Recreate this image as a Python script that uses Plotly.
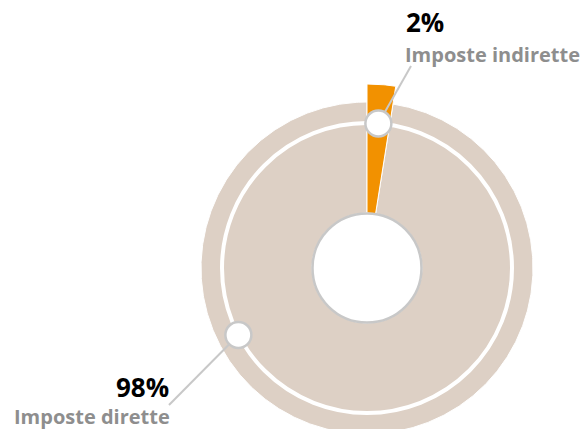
import numpy as np
import plotly.graph_objects as go

# --- data -------------------------------------------------------------
categories = ["Imposte indirette", "Imposte dirette"]
shares = [2.5, 97.5]
pct_labels = [f"{v:.0f}%" for v in shares]

# --- style / layout constants ------------------------------------------
W, H = 585, 429
CX, CY = 367, 268          # donut centre (axis units = pixels, y down)
HOLE_R = 55
RING_R = 145

ORANGE = "#f29100"
BEIGE = "#ddd0c5"
GREY_TXT = "#8e8e8e"
GREY_LINE = "#c8c8c8"
FONT = "Open Sans"

slice_colors = [ORANGE, BEIGE]
slice_outer = [184, 166]
knob_angle_override = [None, 242.5]        # beige knob sits lower-left
leader_end = [(411, 66), (169, 405)]       # where the leader lines stop


def polar_xy(r, deg):
    t = np.radians(deg)
    return CX + r * np.sin(t), CY - r * np.cos(t)


def wedge(a0, a1, r0, r1):
    t = np.linspace(a0, a1, max(int(abs(a1 - a0)) * 2, 8))
    xo, yo = polar_xy(r1, t)
    xi, yi = polar_xy(r0, t[::-1])
    xs = np.concatenate([xo, xi, xo[:1]])
    ys = np.concatenate([yo, yi, yo[:1]])
    return xs, ys


total = sum(shares)
spans = [v / total * 360 for v in shares]
starts = [sum(spans[:i]) for i in range(len(spans))]
mids = [s + w / 2 for s, w in zip(starts, spans)]

fig = go.Figure()

# slices (beige first so the orange wedge sits on top)
for i in reversed(range(len(shares))):
    xs, ys = wedge(starts[i], starts[i] + spans[i], HOLE_R, slice_outer[i])
    fig.add_trace(
        go.Scatter(
            x=xs, y=ys, mode="lines", fill="toself",
            fillcolor=slice_colors[i], line=dict(color="white", width=1),
            name=categories[i], hoverinfo="name", showlegend=False,
        )
    )

# thin white ring + centre hole
fig.add_trace(
    go.Scatter(
        x=[CX], y=[CY], mode="markers",
        marker=dict(size=RING_R * 2, color="rgba(0,0,0,0)", line=dict(color="white", width=4)),
        hoverinfo="skip", showlegend=False,
    )
)
fig.add_trace(
    go.Scatter(
        x=[CX], y=[CY], mode="markers",
        marker=dict(size=HOLE_R * 2 - 1, color="white", line=dict(color=GREY_LINE, width=2.5)),
        hoverinfo="skip", showlegend=False,
    )
)

# leader lines + knobs
for i, name in enumerate(categories):
    ang = knob_angle_override[i] if knob_angle_override[i] is not None else mids[i]
    kx, ky = polar_xy(RING_R, ang)
    ex, ey = leader_end[i]
    fig.add_trace(
        go.Scatter(
            x=[kx, ex], y=[ky, ey], mode="lines",
            line=dict(color=GREY_LINE, width=2), hoverinfo="skip", showlegend=False,
        )
    )
    fig.add_trace(
        go.Scatter(
            x=[kx], y=[ky], mode="markers",
            marker=dict(size=26, color="white", line=dict(color=GREY_LINE, width=2.5)),
            name=name, hovertemplate=f"{name}: {pct_labels[i]}<extra></extra>", showlegend=False,
        )
    )

# labels
label_specs = [
    # (pct x, pct y, name x, name y, anchor)
    (404, 22, 403, 54, "left"),
    (171, 387, 172, 416, "right"),
]
for i, (px, py, nx, ny, anchor) in enumerate(label_specs):
    fig.add_annotation(
        x=px, y=py, text=f"<b>{pct_labels[i]}</b>", showarrow=False,
        xanchor=anchor, yanchor="middle",
        font=dict(family=FONT, size=26, color="black"),
    )
    fig.add_annotation(
        x=nx, y=ny, text=f"<b>{categories[i]}</b>", showarrow=False,
        xanchor=anchor, yanchor="middle",
        font=dict(family=FONT, size=20, color=GREY_TXT),
    )

fig.update_layout(
    width=W, height=H,
    margin=dict(l=0, r=0, t=0, b=0),
    paper_bgcolor="white",
    plot_bgcolor="white",
    showlegend=False,
    xaxis=dict(range=[0, W], visible=False, fixedrange=True),
    yaxis=dict(range=[H, 0], visible=False, fixedrange=True),
)

fig.write_html(
    "out.html",
    config={"displayModeBar": False},
    post_script="document.body.style.margin='0';",
)
